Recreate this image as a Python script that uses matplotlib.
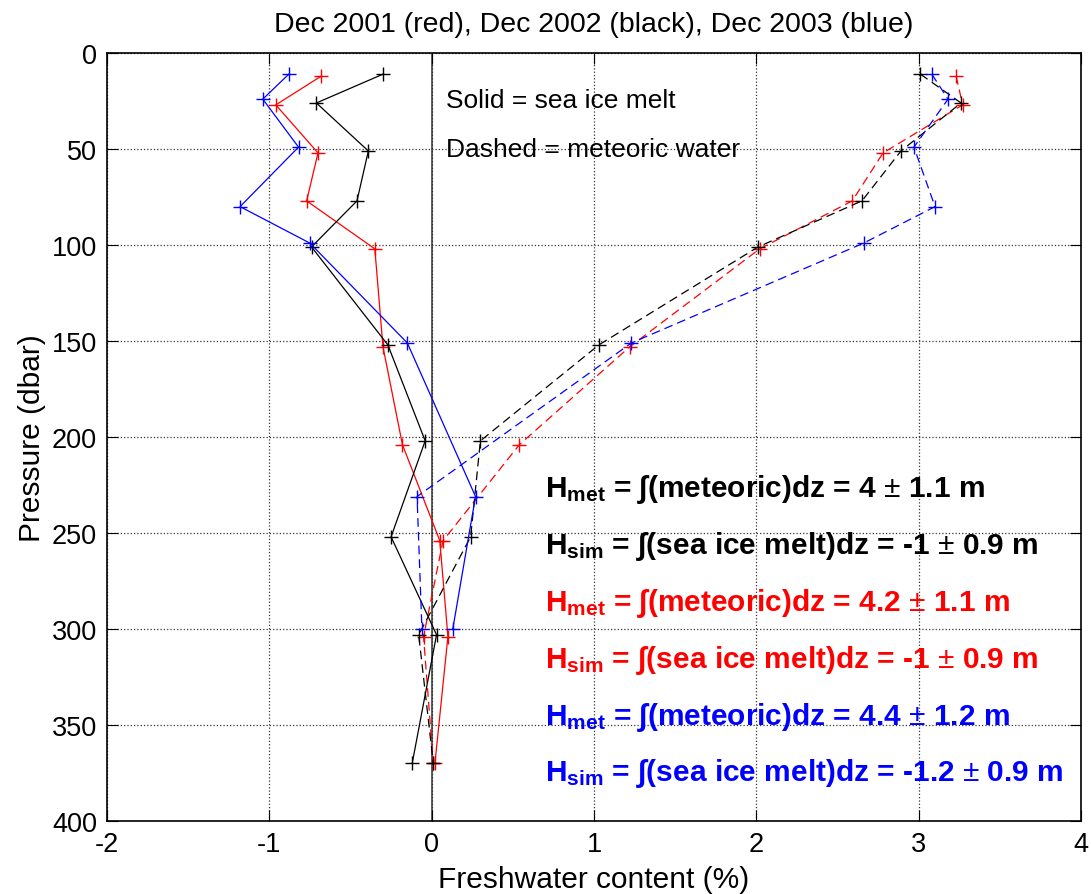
import numpy as np
import matplotlib
matplotlib.use("Agg")
import matplotlib.pyplot as plt

plt.rcParams['font.family'] = ['Liberation Sans', 'DejaVu Sans']
plt.rcParams['mathtext.fontset'] = 'custom'
plt.rcParams['mathtext.rm'] = 'Liberation Sans'
plt.rcParams['mathtext.bf'] = 'Liberation Sans:bold'
plt.rcParams['axes.unicode_minus'] = False

# Dec 2001 (red)
p_red = [12, 27, 52, 77, 102, 153, 204, 254, 304, 370]
sim_red = [-0.68, -0.96, -0.70, -0.77, -0.35, -0.30, -0.18, 0.05, 0.10, 0.02]
met_red = [3.23, 3.27, 2.78, 2.59, 2.02, 1.22, 0.54, 0.07, -0.05, 0.01]

# Dec 2002 (black)
p_blk = [11, 26, 51, 77, 101, 152, 202, 252, 303, 370]
sim_blk = [-0.30, -0.71, -0.39, -0.46, -0.74, -0.27, -0.04, -0.25, 0.03, -0.12]
met_blk = [3.01, 3.26, 2.89, 2.65, 2.01, 1.03, 0.30, 0.24, -0.08, 0.01]

# Dec 2003 (blue)
p_blu = [11, 24, 49, 80, 99, 151, 231, 300]
sim_blu = [-0.88, -1.04, -0.82, -1.18, -0.75, -0.15, 0.27, 0.13]
met_blu = [3.08, 3.18, 2.97, 3.10, 2.66, 1.23, -0.09, -0.06]

fig = plt.figure(figsize=(10.91, 8.95), dpi=100)
ax = fig.add_axes([0.098, 0.0816, 0.893, 0.858])

ax.axvline(0, color='#505050', lw=1.3, zorder=1)

for p, sim, met, c in [(p_red, sim_red, met_red, 'red'),
                       (p_blk, sim_blk, met_blk, 'black'),
                       (p_blu, sim_blu, met_blu, 'blue')]:
    ax.plot(sim, p, '-', color=c, lw=0.9, marker='+', ms=10, mew=1.0)
    ax.plot(met, p, '--', color=c, lw=0.9, marker='+', ms=10, mew=1.0,
            dashes=(7, 4))

ax.set_xlim(-2, 4)
ax.set_ylim(400, 0)
ax.set_xticks(np.arange(-2, 5, 1))
ax.set_yticks(np.arange(0, 401, 50))
ax.grid(True, linestyle=':', color='#333333', lw=0.9)
ax.tick_params(direction='in', length=8, top=True, right=True, labelsize=19.5, pad=7)
for s in ax.spines.values():
    s.set_linewidth(1.2)

ax.set_title('Dec 2001 (red), Dec 2002 (black), Dec 2003 (blue)', fontsize=20.5, pad=16)
ax.set_xlabel('Freshwater content (%)', fontsize=21.5, labelpad=6)
ax.set_ylabel('Pressure (dbar)', fontsize=21.5, labelpad=4)

ax.text(0.09, 24.5, 'Solid = sea ice melt', fontsize=19, va='center')
ax.text(0.09, 50, 'Dashed = meteoric water', fontsize=19, va='center')

lines = [(r'$\mathbf{H_{met}}$ = ∫(meteoric)dz = 4 $\pm$ 1.1 m', 'black'),
         (r'$\mathbf{H_{sim}}$ = ∫(sea ice melt)dz = -1 $\pm$ 0.9 m', 'black'),
         (r'$\mathbf{H_{met}}$ = ∫(meteoric)dz = 4.2 $\pm$ 1.1 m', 'red'),
         (r'$\mathbf{H_{sim}}$ = ∫(sea ice melt)dz = -1 $\pm$ 0.9 m', 'red'),
         (r'$\mathbf{H_{met}}$ = ∫(meteoric)dz = 4.4 $\pm$ 1.2 m', 'blue'),
         (r'$\mathbf{H_{sim}}$ = ∫(sea ice melt)dz = -1.2 $\pm$ 0.9 m', 'blue')]
for i, (t, c) in enumerate(lines):
    ax.text(0.70, 227 + i * 29.6, t, color=c, fontsize=21.5, fontweight='bold',
            va='center')

fig.savefig('out.png', dpi=100)
